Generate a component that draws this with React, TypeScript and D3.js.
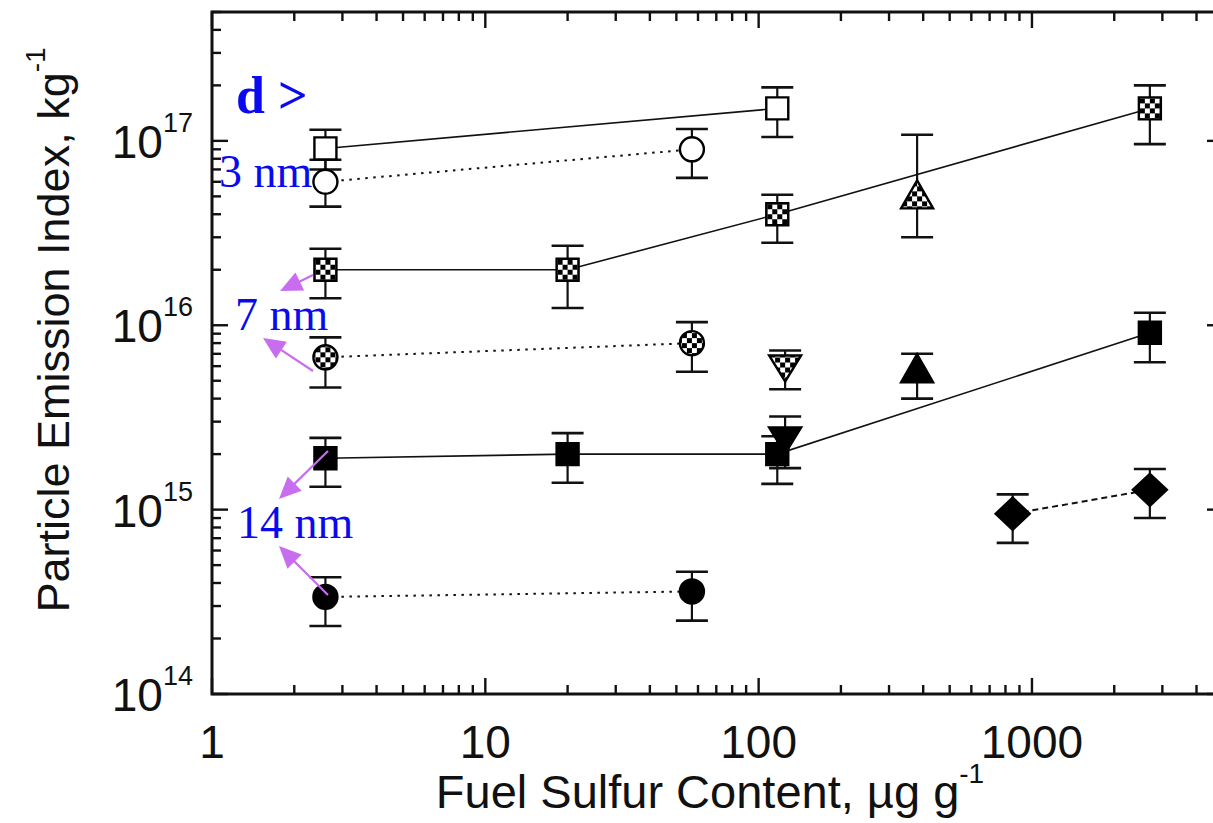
import React from 'react';
import * as d3 from 'd3';

// Fuel sulfur content (µg/g) vs particle emission index (per kg fuel).
// Each point: [sulfur, value, lowerBound, upperBound]
type Pt = [number, number, number, number];

const openSquare: Pt[] = [
  [2.6, 9.1e16, 7.0e16, 1.15e17],
  [117, 1.5e17, 1.05e17, 1.95e17],
];
const openCircle: Pt[] = [
  [2.6, 6.0e16, 4.4e16, 7.9e16],
  [57, 9.0e16, 6.3e16, 1.16e17],
];
const checkSquare: Pt[] = [
  [2.6, 2.0e16, 1.4e16, 2.6e16],
  [20, 2.0e16, 1.24e16, 2.7e16],
  [117, 4.0e16, 2.8e16, 5.1e16],
  [2700, 1.5e17, 9.6e16, 2.0e17],
];
const checkTriUp: Pt[] = [[380, 5.0e16, 3.0e16, 1.08e17]];
const checkCircle: Pt[] = [
  [2.6, 6.7e15, 4.6e15, 8.6e15],
  [57, 8.0e15, 5.6e15, 1.04e16],
];
const checkTriDown: Pt[] = [[125, 5.9e15, 4.5e15, 7.3e15]];
const filledTriUp: Pt[] = [[380, 5.7e15, 4.0e15, 7.0e15]];
const filledSquare: Pt[] = [
  [2.6, 1.9e15, 1.33e15, 2.45e15],
  [20, 2.0e15, 1.4e15, 2.6e15],
  [117, 2.0e15, 1.38e15, 2.5e15],
  [2700, 9.1e15, 6.3e15, 1.17e16],
];
const filledTriDown: Pt[] = [[125, 2.4e15, 1.68e15, 3.2e15]];
const filledDiamond: Pt[] = [
  [850, 9.5e14, 6.6e14, 1.21e15],
  [2700, 1.28e15, 9.0e14, 1.66e15],
];
const filledCircle: Pt[] = [
  [2.6, 3.36e14, 2.34e14, 4.3e14],
  [57, 3.6e14, 2.5e14, 4.6e14],
];

const xTickLabels = ['1', '10', '100', '1000'];
const yTickExponents = ['14', '15', '16', '17'];

type Shape = 'square' | 'circle' | 'triUp' | 'triDown' | 'diamond';
type Fill = 'open' | 'check' | 'solid';
type LineStyle = 'none' | 'solid' | 'dotted' | 'dashed';

interface Series {
  name: string;
  data: Pt[];
  shape: Shape;
  fill: Fill;
  line: LineStyle;
}

const seriesList: Series[] = [
  { name: 'openSquare', data: openSquare, shape: 'square', fill: 'open', line: 'solid' },
  { name: 'openCircle', data: openCircle, shape: 'circle', fill: 'open', line: 'dotted' },
  { name: 'checkSquare', data: checkSquare, shape: 'square', fill: 'check', line: 'solid' },
  { name: 'checkTriUp', data: checkTriUp, shape: 'triUp', fill: 'check', line: 'none' },
  { name: 'checkCircle', data: checkCircle, shape: 'circle', fill: 'check', line: 'dotted' },
  { name: 'checkTriDown', data: checkTriDown, shape: 'triDown', fill: 'check', line: 'none' },
  { name: 'filledTriUp', data: filledTriUp, shape: 'triUp', fill: 'solid', line: 'none' },
  { name: 'filledTriDown', data: filledTriDown, shape: 'triDown', fill: 'solid', line: 'none' },
  { name: 'filledSquare', data: filledSquare, shape: 'square', fill: 'solid', line: 'solid' },
  { name: 'filledDiamond', data: filledDiamond, shape: 'diamond', fill: 'solid', line: 'dashed' },
  { name: 'filledCircle', data: filledCircle, shape: 'circle', fill: 'solid', line: 'dotted' },
];

const W = 1213;
const H = 823;
const frame = { left: 212, top: 12, right: 1223, bottom: 694 };

const x = d3.scaleLog().domain([1, 5000]).range([frame.left, frame.right]);
const y = d3.scaleLog().domain([1e14, 5e17]).range([frame.bottom, frame.top]);

const INK = '#111';
const BLUE = '#0a0aee';
const VIOLET = '#c86cf0';

const dashFor: Record<LineStyle, string | undefined> = {
  none: undefined,
  solid: undefined,
  dotted: '2.5,5.5',
  dashed: '6,4',
};

function markerPath(shape: Shape): string {
  switch (shape) {
    case 'square':
      return 'M-11,-11H11V11H-11Z';
    case 'circle':
      return 'M-12,0A12,12 0 1,0 12,0A12,12 0 1,0 -12,0Z';
    case 'triUp':
      return 'M0,-16L16,12H-16Z';
    case 'triDown':
      return 'M0,14L16,-12H-16Z';
    case 'diamond':
      return 'M0,-16L17,0L0,16L-17,0Z';
  }
}

function isMajor(v: number) {
  return Math.abs(Math.log10(v) - Math.round(Math.log10(v))) < 1e-9;
}

export default function App() {
  const line = d3
    .line<Pt>()
    .x((d) => x(d[0]))
    .y((d) => y(d[1]));

  const xTicks = x.ticks();
  const yTicks = y.ticks();

  // violet pointers from the markers to the size labels
  const arrows = [
    { x1: 313, y1: 275, x2: 280, y2: 291 },
    { x1: 313, y1: 371, x2: 263, y2: 338 },
    { x1: 328, y1: 451, x2: 279, y2: 499 },
    { x1: 328, y1: 595, x2: 279, y2: 546 },
  ];

  const headPath = (a: { x1: number; y1: number; x2: number; y2: number }) => {
    const ang = Math.atan2(a.y2 - a.y1, a.x2 - a.x1);
    const L = 22;
    const Wd = 10;
    const bx = a.x2 - L * Math.cos(ang);
    const by = a.y2 - L * Math.sin(ang);
    const px = -Math.sin(ang) * Wd;
    const py = Math.cos(ang) * Wd;
    return `M${a.x2},${a.y2}L${bx + px},${by + py}L${bx - px},${by - py}Z`;
  };

  return (
    <svg
      width={W}
      height={H}
      style={{ position: 'fixed', left: 0, top: 0, background: '#fff' }}
      fontFamily="'Liberation Sans', Arial, sans-serif"
    >
      <defs>
        <pattern id="checker" width="10" height="10" patternUnits="userSpaceOnUse" x="0" y="0">
          <rect width="10" height="10" fill="#fff" />
          <rect width="5" height="5" fill="#000" />
          <rect x="5" y="5" width="5" height="5" fill="#000" />
        </pattern>
      </defs>
      <rect width={W} height={H} fill="#fff" />

      {/* connecting lines */}
      {seriesList
        .filter((s) => s.line !== 'none')
        .map((s) => (
          <path
            key={'l-' + s.name}
            d={line(s.data) ?? ''}
            fill="none"
            stroke={INK}
            strokeWidth={s.line === 'solid' ? 1.6 : 2}
            strokeDasharray={dashFor[s.line]}
          />
        ))}

      {/* error bars */}
      {seriesList.map((s) =>
        s.data.map((d, i) => {
          const cx = x(d[0]);
          return (
            <g key={`e-${s.name}-${i}`} stroke={INK} strokeWidth={2.2}>
              <line x1={cx} x2={cx} y1={y(d[2])} y2={y(d[3])} />
              <line x1={cx - 16} x2={cx + 16} y1={y(d[2])} y2={y(d[2])} strokeWidth={2.6} />
              <line x1={cx - 16} x2={cx + 16} y1={y(d[3])} y2={y(d[3])} strokeWidth={2.6} />
            </g>
          );
        })
      )}

      {/* markers */}
      {seriesList.map((s) =>
        s.data.map((d, i) => (
          <path
            key={`m-${s.name}-${i}`}
            transform={`translate(${x(d[0])},${y(d[1])})`}
            d={markerPath(s.shape)}
            fill={s.fill === 'open' ? '#fff' : s.fill === 'check' ? 'url(#checker)' : '#000'}
            stroke="#000"
            strokeWidth={2.4}
          />
        ))
      )}

      {/* frame */}
      <rect
        x={frame.left}
        y={frame.top}
        width={frame.right - frame.left}
        height={frame.bottom - frame.top}
        fill="none"
        stroke={INK}
        strokeWidth={3}
      />

      {/* x ticks, bottom and top, pointing inward */}
      {xTicks.map((t, i) => {
        const len = isMajor(t) ? 16 : 9;
        const px = x(t);
        return (
          <g key={'xt' + i} stroke={INK} strokeWidth={2.4}>
            <line x1={px} x2={px} y1={frame.bottom} y2={frame.bottom - len} />
            <line x1={px} x2={px} y1={frame.top} y2={frame.top + len} />
          </g>
        );
      })}
      {/* y ticks, left and right, pointing inward */}
      {yTicks.map((t, i) => {
        const len = isMajor(t) ? 16 : 9;
        const py = y(t);
        return (
          <g key={'yt' + i} stroke={INK} strokeWidth={2.4}>
            <line x1={frame.left} x2={frame.left + len} y1={py} y2={py} />
            <line x1={frame.right} x2={frame.right - len} y1={py} y2={py} />
          </g>
        );
      })}

      {/* x tick labels */}
      {xTickLabels.map((lab) => (
        <text key={'xl' + lab} x={x(+lab)} y={758} textAnchor="middle" fontSize={46} fill={INK}>
          {lab}
        </text>
      ))}
      {/* y tick labels */}
      {yTickExponents.map((e) => {
        const py = y(Math.pow(10, +e));
        return (
          <text key={'yl' + e} x={193} y={py + 17} textAnchor="end" fontSize={46} fill={INK}>
            10
            <tspan dy={-26} fontSize={27}>
              {e}
            </tspan>
          </text>
        );
      })}

      {/* axis titles */}
      <text x={710} y={808} textAnchor="middle" fontSize={47} fill={INK}>
        Fuel Sulfur Content, µg g
        <tspan dy={-25} fontSize={28}>
          -1
        </tspan>
      </text>
      <text transform="translate(69,330) rotate(-90)" textAnchor="middle" fontSize={45} fill={INK}>
        Particle Emission Index, kg
        <tspan dy={-24} fontSize={28}>
          -1
        </tspan>
      </text>

      {/* size annotations */}
      {arrows.map((a, i) => {
        const ang = Math.atan2(a.y2 - a.y1, a.x2 - a.x1);
        return (
          <g key={'ar' + i} fill={VIOLET} stroke={VIOLET}>
            <line
              x1={a.x1}
              y1={a.y1}
              x2={a.x2 - 18 * Math.cos(ang)}
              y2={a.y2 - 18 * Math.sin(ang)}
              strokeWidth={2.2}
            />
            <path d={headPath(a)} stroke="none" />
          </g>
        );
      })}
      <g fontFamily="'Liberation Serif', 'Times New Roman', serif" fill={BLUE}>
        <text x={236} y={113} fontSize={52} fontWeight="bold">
          d &gt;
        </text>
        <text x={219} y={187} fontSize={46}>
          3 nm
        </text>
        <text x={235} y={330} fontSize={46}>
          7 nm
        </text>
        <text x={237} y={538} fontSize={46}>
          14 nm
        </text>
      </g>
    </svg>
  );
}
